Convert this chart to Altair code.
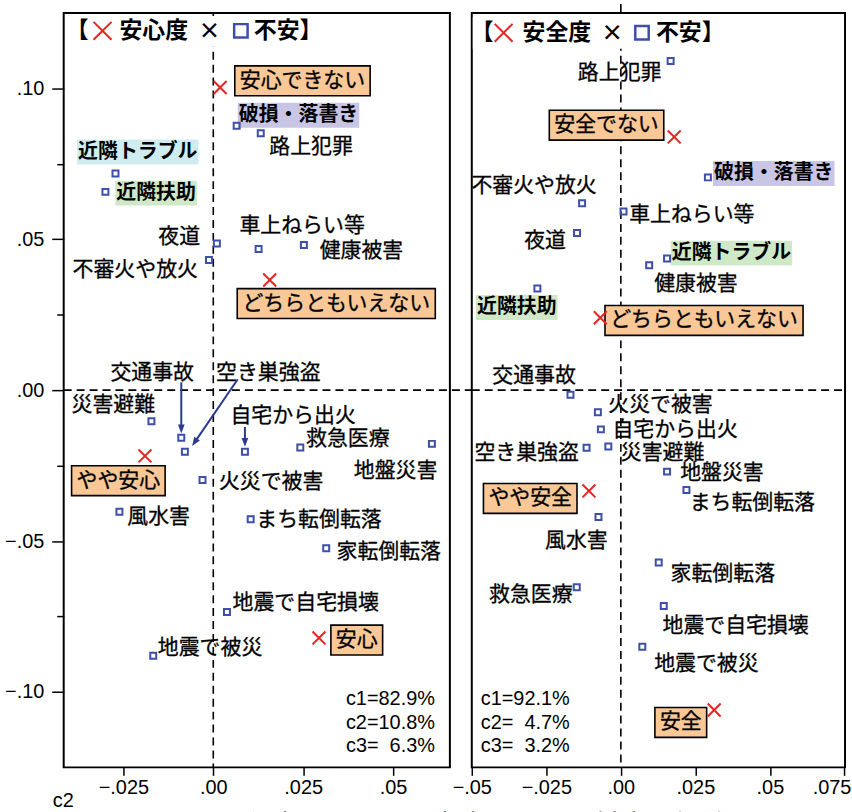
import altair as alt
import pandas as pd

# ------------------------------------------------------------------ data
items = ["破損・落書き", "路上犯罪", "近隣トラブル", "近隣扶助", "夜道", "不審火や放火",
         "車上ねらい等", "健康被害", "災害避難", "交通事故", "空き巣強盗", "自宅から出火",
         "救急医療", "地盤災害", "火災で被害", "風水害", "まち転倒転落", "家転倒転落",
         "地震で自宅損壊", "地震で被災"]

# left panel: 安心度 x 不安
anshin_levels = ["安心できない", "どちらともいえない", "やや安心", "安心"]
anshin_c2 = [0.0019, 0.0157, -0.0190, 0.0294]
anshin_c1 = [0.1003, 0.0365, -0.0218, -0.0821]
anshin_label_c2 = [0.0248, 0.0342, -0.0264, 0.0399]
anshin_label_c1 = [0.1025, 0.0287, -0.0300, -0.0828]

fuanL_c2 = [0.0065, 0.0132, -0.0272, -0.0300, 0.0010, -0.0012, 0.0126, 0.0252, -0.0172, -0.0089,
            -0.0079, 0.0088, 0.0242, 0.0608, -0.0030, -0.0261, 0.0104, 0.0314, 0.0038, -0.0167]
fuanL_c1 = [0.0876, 0.0851, 0.0718, 0.0657, 0.0486, 0.0431, 0.0468, 0.0481, -0.0103, -0.0158,
            -0.0204, -0.0204, -0.0190, -0.0178, -0.0298, -0.0403, -0.0428, -0.0524, -0.0735, -0.0880]
fuanL_label_c2 = [0.0237, 0.0272, -0.0210, -0.0159, -0.0095, -0.0217, 0.0247, 0.0412, -0.0278, -0.0170,
                  0.0153, 0.0222, 0.0374, 0.0507, 0.0161, -0.0152, 0.0294, 0.0488, 0.0257, -0.0009]
fuanL_label_c1 = [0.0911, 0.0805, 0.0789, 0.0653, 0.0508, 0.0399, 0.0545, 0.0462, -0.0050, 0.0056,
                  0.0056, -0.0086, -0.0162, -0.0267, -0.0304, -0.0419, -0.0429, -0.0535, -0.0706, -0.0855]

# arrows in the left panel (from label to point)
arrow_c2_from = [-0.0089, 0.0068, 0.0088]
arrow_c1_from = [0.0026, 0.0036, -0.0122]
arrow_c2_to = [-0.0089, -0.0052, 0.0088]
arrow_c1_to = [-0.0129, -0.0173, -0.0173]
arrow_angle = [180, 214, 180]

# right panel: 安全度 x 不安
anzen_levels = ["安全でない", "どちらともいえない", "やや安全", "安全"]
anzen_c2 = [0.0179, -0.0069, -0.0107, 0.0313]
anzen_c1 = [0.0839, 0.0240, -0.0334, -0.1060]
anzen_label_c2 = [-0.0048, 0.0279, -0.0304, 0.0201]
anzen_label_c1 = [0.0878, 0.0231, -0.0359, -0.1101]

fuanR_c2 = [0.0292, 0.0167, 0.0155, -0.0280, -0.0147, -0.0130, 0.0009, 0.0095, -0.0042, -0.0169,
            -0.0115, -0.0067, -0.0148, 0.0155, -0.0077, -0.0075, 0.0220, 0.0127, 0.0144, 0.0072]
fuanR_c1 = [0.0705, 0.1091, 0.0436, 0.0337, 0.0521, 0.0619, 0.0592, 0.0414, -0.0187, -0.0015,
            -0.0191, -0.0130, -0.0653, -0.0270, -0.0073, -0.0420, -0.0331, -0.0571, -0.0715, -0.0850]
fuanR_label_c2 = [0.0513, -0.0004, 0.0371, -0.0349, -0.0254, -0.0291, 0.0238, 0.0252, 0.0140, -0.0291,
                  -0.0316, 0.0182, -0.0302, 0.0339, 0.0133, -0.0149, 0.0441, 0.0342, 0.0385, 0.0287]
fuanR_label_c1 = [0.0718, 0.1050, 0.0454, 0.0274, 0.0495, 0.0677, 0.0581, 0.0350, -0.0208, 0.0046,
                  -0.0210, -0.0131, -0.0678, -0.0276, -0.0050, -0.0499, -0.0375, -0.0610, -0.0782, -0.0909]

stats_left = ["c1=82.9%", "c2=10.8%", "c3=\u00a0\u00a06.3%"]
stats_right = ["c1=92.1%", "c2=\u00a0\u00a04.7%", "c3=\u00a0\u00a03.2%"]
caption = "図　安心度と不安、安全度と不安の対応分析結果"

x_ticks_left = [-0.025, 0.0, 0.025, 0.05]
x_ticks_right = [-0.05, -0.025, 0.0, 0.025, 0.05, 0.075]
y_ticks = [-0.1, -0.075, -0.05, -0.025, 0.0, 0.025, 0.05, 0.075, 0.1]

# ------------------------------------------------------------------ style
JP = "Noto Sans CJK JP"
NUM = "Liberation Sans"
BLUE = "#3D4FA8"
RED = "#E52521"
NAVY = "#2B3A8F"
ORANGE = "#F9C896"
highlight_left = {"破損・落書き": "#C8C5E5", "近隣トラブル": "#CFEDF0", "近隣扶助": "#CFE8C8"}
highlight_right = {"破損・落書き": "#C8C5E5", "近隣トラブル": "#CFE8C8", "近隣扶助": "#CFE8C8"}
CROSS = "M-1,-1L1,1M-1,1L1,-1"
ARROWHEAD = "M0,-1L0.75,1L-0.75,1Z"
HEIGHT = 758
GAP = 22

XLABEL = "datum.value == 0 ? '.00' : replace(format(datum.value, '.3~f'), '0.', '.')"
MAJOR = "abs(datum.value * 20 - round(datum.value * 20)) < 0.000001"
YLABEL = MAJOR + " ? replace(format(datum.value, '.2f'), '0.', '.') : ''"

y_scale = alt.Scale(domain=[-0.125, 0.125], nice=False, zero=False)


def box_shape(fs, pad, hh):
    hw = f"(length(datum.label) * {fs} + {pad}) / {2 * hh}"
    return ("'M' + (-(" + hw + ")) + ',-1L' + (" + hw + ") + ',-1L' + (" + hw +
            ") + ',1L' + (-(" + hw + ")) + ',1Z'")


def panel(width, x_domain, x_ticks, y_axis, x_title, last_offset,
          lev_names, lev_x, lev_y, lev_lx, lev_ly,
          f_x, f_y, f_lx, f_ly, highlight,
          title_word, title_pos, title_box, stats, stats_align, stats_x,
          arrows=None, cap=None, hline_ext=0, vline_top=0):
    xs = alt.Scale(domain=x_domain, nice=False, zero=False)
    ax = dict(values=x_ticks, labelExpr=XLABEL, labelFont=NUM, labelFontSize=20, labelColor="black",
              labelPadding=2, tickSize=8, tickWidth=1.5, tickColor="black", domain=False, grid=False,
              labelFlush=False, labelOverlap=False)
    if x_title:
        ax.update(title=x_title, titleX=-1, titleY=33, titleAlign="center", titleBaseline="middle",
                  titleFont=NUM, titleFontSize=20, titleFontWeight="normal", titleColor="black")
    else:
        ax["title"] = None
    if last_offset:
        ax["labelOffset"] = {"condition": {"test": "datum.value > 0.07", "value": last_offset}, "value": 0}
    x_axis = alt.Axis(**ax)

    def X(f):
        return alt.X(f, type="quantitative", scale=xs, axis=x_axis)

    def Y(f):
        return alt.Y(f, type="quantitative", scale=y_scale, axis=y_axis)

    fdf = pd.DataFrame({"label": items, "x": f_x, "y": f_y, "lx": f_lx, "ly": f_ly})
    fdf["bg"] = fdf["label"].map(highlight).fillna("")
    plain = fdf[fdf["bg"] == ""]
    hl = fdf[fdf["bg"] != ""]
    ldf = pd.DataFrame({"label": lev_names, "x": lev_x, "y": lev_y, "lx": lev_lx, "ly": lev_ly})

    zero = pd.DataFrame({"v": [0.0]})
    one = pd.DataFrame({"k": [0]})
    layers = []
    dash = dict(color="black", strokeWidth=1.6, strokeDash=[8, 5])
    layers.append(alt.Chart(zero).mark_rule(**dash)
                  .encode(x=X("v"), y=alt.value(vline_top), y2=alt.value(HEIGHT)))
    layers.append(alt.Chart(zero).mark_rule(**dash)
                  .encode(y=Y("v"), x=alt.value(0), x2=alt.value(width + hline_ext)))
    # white backing of the panel title
    bx0, bx1, by0, by1 = title_box
    layers.append(alt.Chart(one).mark_rect(color="white")
                  .encode(x=alt.value(bx0), x2=alt.value(bx1), y=alt.value(by0), y2=alt.value(by1)))
    # highlight backgrounds
    layers.append(alt.Chart(hl).transform_calculate(shape=box_shape(20, 2, 12.5))
                  .mark_point(filled=True, opacity=1, strokeWidth=0, size=625)
                  .encode(x=X("lx"), y=Y("ly"), shape=alt.Shape("shape:N", scale=None),
                          fill=alt.Fill("bg:N", scale=None)))
    # orange boxes for levels
    layers.append(alt.Chart(ldf).transform_calculate(shape=box_shape(21, 10, 15))
                  .mark_point(filled=True, opacity=1, fill=ORANGE, stroke="black", strokeWidth=1.6, size=900)
                  .encode(x=X("lx"), y=Y("ly"), shape=alt.Shape("shape:N", scale=None)))
    if arrows is not None:
        adf = pd.DataFrame({"x": arrows[0], "y": arrows[1], "x2": arrows[2], "y2": arrows[3], "a": arrows[4]})
        layers.append(alt.Chart(adf).mark_rule(color=NAVY, strokeWidth=2)
                      .encode(x=X("x"), y=Y("y"), x2="x2", y2="y2"))
        layers.append(alt.Chart(adf).mark_point(shape=ARROWHEAD, filled=True, opacity=1, color=NAVY, size=81)
                      .encode(x=X("x2"), y=Y("y2"), angle=alt.Angle("a:Q", scale=None)))
    # points
    layers.append(alt.Chart(fdf).mark_point(shape="square", filled=False, opacity=1, color=BLUE,
                                            strokeWidth=2, size=36)
                  .encode(x=X("x"), y=Y("y")))
    layers.append(alt.Chart(ldf).mark_point(shape=CROSS, filled=False, opacity=1, color=RED,
                                            strokeWidth=2, size=169)
                  .encode(x=X("x"), y=Y("y")))
    # labels
    txt = dict(font=JP, fontSize=21, align="center", baseline="middle", color="black",
               stroke="black", strokeWidth=0.3)
    layers.append(alt.Chart(plain).mark_text(**txt)
                  .encode(x=X("lx"), y=Y("ly"), text="label:N"))
    layers.append(alt.Chart(hl).mark_text(font=JP, fontSize=20, fontWeight="bold", align="center",
                                          baseline="middle", color="black")
                  .encode(x=X("lx"), y=Y("ly"), text="label:N"))
    layers.append(alt.Chart(ldf).mark_text(**txt)
                  .encode(x=X("lx"), y=Y("ly"), text="label:N"))
    # panel title
    bx, rx, wx, tx, sx, ex, ty = title_pos
    for t, px, al, fs in [("【", bx, "left", 23), (title_word, wx, "left", 23),
                          ("×", tx, "center", 22), ("不安】", ex, "left", 23)]:
        layers.append(alt.Chart(one).mark_text(text=t, font=JP, fontSize=fs, fontWeight="bold",
                                               align=al, baseline="middle", color="black")
                      .encode(x=alt.value(px), y=alt.value(ty)))
    layers.append(alt.Chart(one).mark_point(shape=CROSS, filled=False, opacity=1, color=RED,
                                            strokeWidth=2, size=324)
                  .encode(x=alt.value(rx), y=alt.value(ty)))
    layers.append(alt.Chart(one).mark_point(shape="square", filled=False, opacity=1, color=BLUE,
                                            strokeWidth=2.5, size=182)
                  .encode(x=alt.value(sx), y=alt.value(ty)))
    # contribution text
    for i, s in enumerate(stats):
        layers.append(alt.Chart(one).mark_text(text=s, font=NUM, fontSize=20, align=stats_align,
                                               baseline="middle", color="black")
                      .encode(x=alt.value(stats_x), y=alt.value(689 + 24 * i)))
    if cap:
        layers.append(alt.Chart(one).mark_text(text=cap, font=JP, fontSize=27, align="left",
                                               baseline="middle", color="black")
                      .encode(x=alt.value(100), y=alt.value(HEIGHT + 60)))
    return alt.layer(*layers).properties(width=width, height=HEIGHT)


y_axis_left = alt.Axis(values=y_ticks, labelExpr=YLABEL, labelFont=NUM, labelFontSize=20, labelColor="black",
                       tickSize={"condition": {"test": MAJOR, "value": 12}, "value": 7},
                       tickWidth=1.5, tickColor="black", labelPadding=8, domain=False, grid=False,
                       labelFlush=False, labelOverlap=False, title=None)

left = panel(388, [-0.0416, 0.0658], x_ticks_left, y_axis_left, "c2", None,
             anshin_levels, anshin_c2, anshin_c1, anshin_label_c2, anshin_label_c1,
             fuanL_c2, fuanL_c1, fuanL_label_c2, fuanL_label_c1, highlight_left,
             "安心度", (2, 39, 56, 146.5, 178, 191, 18), (2, 252, 3, 34), stats_left, "right", 373,
             arrows=(arrow_c2_from, arrow_c1_from, arrow_c2_to, arrow_c1_to, arrow_angle), cap=caption,
             hline_ext=GAP)

right = panel(375, [-0.05, 0.0752], x_ticks_right, None, None, -13,
              anzen_levels, anzen_c2, anzen_c1, anzen_label_c2, anzen_label_c1,
              fuanR_c2, fuanR_c1, fuanR_label_c2, fuanR_label_c1, highlight_right,
              "安全度", (-1, 32, 51, 141, 171, 185, 20), (1, 246, 4, 36), stats_right, "left", 9,
              vline_top=-9)

chart = (alt.hconcat(left, right, spacing=GAP, bounds="flush")
         .properties(padding={"left": 3, "top": 0, "right": 0, "bottom": 0})
         .configure_view(stroke="black", strokeWidth=2))

chart.save("out.html", embed_options={"renderer": "svg", "actions": False})
